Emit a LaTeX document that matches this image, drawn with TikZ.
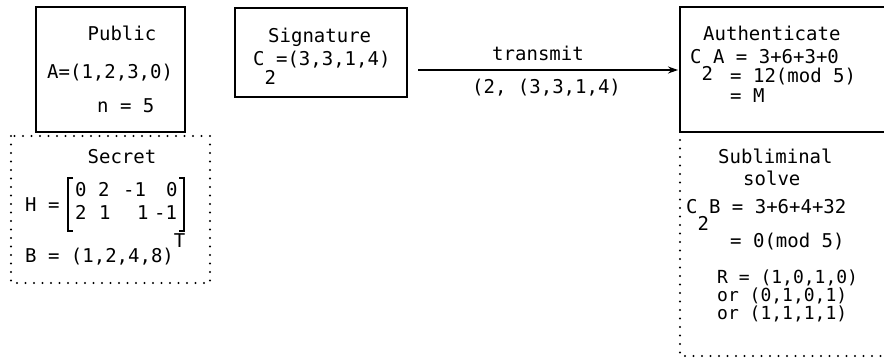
\documentclass[tikz,border=0pt]{standalone}
\usepackage{fontspec}
\setmainfont{DejaVu Sans Mono}
\usetikzlibrary{arrows.meta}
\newcommand{\lowered}[2][17pt]{\raisebox{-#1}{#2}}
\tikzset{
  txt/.style={inner sep=0pt, anchor=base west, font=\fontsize{19}{22}\selectfont},
  txtc/.style={txt, anchor=base},
  txts/.style={txt, font=\fontsize{18}{20}\selectfont},
  solidbox/.style={draw, line width=1.8pt},
  dotline/.style={line width=2.4pt, line cap=round, dash pattern=on 0pt off 8.5pt},
  conn/.style={line width=1.4pt, -{Stealth[length=10pt,width=7pt]}}
}
\begin{document}
\begin{tikzpicture}[x=1pt,y=-1pt]
\useasboundingbox (0,0) rectangle (884,362);
\fill[white] (0,0) rectangle (884,362);
% Public box
\draw[solidbox] (36,7) rectangle (185,132);
\node[txtc] (pubT) at (122,40) {Public};
\node[txt] (pubA) at (47,78) {A=(1,2,3,0)};
\node[txt] (pubN) at (97,112) {n = 5};
% Secret dotted box
\draw[dotline] (11,136) rectangle (210,283);
\node[txtc] (secT) at (122,163) {Secret};
\node[txt] (secH) at (25,211) {H =};
\draw[line width=1.6pt] (73,178) -- (68,178) -- (68,231) -- (73,231);
\draw[line width=1.6pt] (179,178) -- (184,178) -- (184,231) -- (179,231);
\node[txt] (m11) at (75,196) {0};
\node[txt] (m12) at (98,196) {2};
\node[txt] (m13) at (123,196) {-1};
\node[txt] (m14) at (166,196) {0};
\node[txt] (m21) at (75,219) {2};
\node[txt] (m22) at (99,219) {1};
\node[txt] (m23) at (137,219) {1};
\node[txt] (m24) at (154,219) {-1};
\node[txt] (secB) at (25,262) {B = (1,2,4,8)\raisebox{15pt}{T}};
% Signature box
\draw[solidbox] (235,8) rectangle (407,97);
\node[txt] (sigT) at (268,42) {Signature};
\node[txt] (sigC) at (253,65) {C\lowered[19pt]{2}=(3,3,1,4)};
% connector
\coordinate (a1) at (418,70);
\coordinate (a2) at (678,70);
\draw[conn] (a1) -- (a2);
\node[txtc] (trT) at (538,60) {transmit};
\node[txt] (trM) at (472,93) {(2, (3,3,1,4)};
% Authenticate box (extends past the right edge)
\draw[solidbox] (900,7) -- (680,7) -- (680,132) -- (900,132);
\node[txt] (auT) at (703,40) {Authenticate};
\node[txt] (au1) at (690,63) {C\lowered{2}A = 3+6+3+0};
\node[txt] (au2) at (730,82) {= 12(mod 5)};
\node[txt] (au3) at (730,102) {= M};
% Subliminal dotted box
\draw[dotline] (680,140) -- (680,356) -- (900,356);
\node[txt] (suT) at (718,163) {Subliminal};
\node[txt] (suS) at (743,185) {solve};
\node[txt] (su1) at (686,213) {C\lowered{2}B = 3+6+4+32};
\node[txt] (su2) at (730,247) {= 0(mod 5)};
\node[txts] (su3) at (717,283) {R = (1,0,1,0)};
\node[txts] (su4) at (717,301) {or  (0,1,0,1)};
\node[txts] (su5) at (717,319) {or  (1,1,1,1)};
\end{tikzpicture}
\end{document}
